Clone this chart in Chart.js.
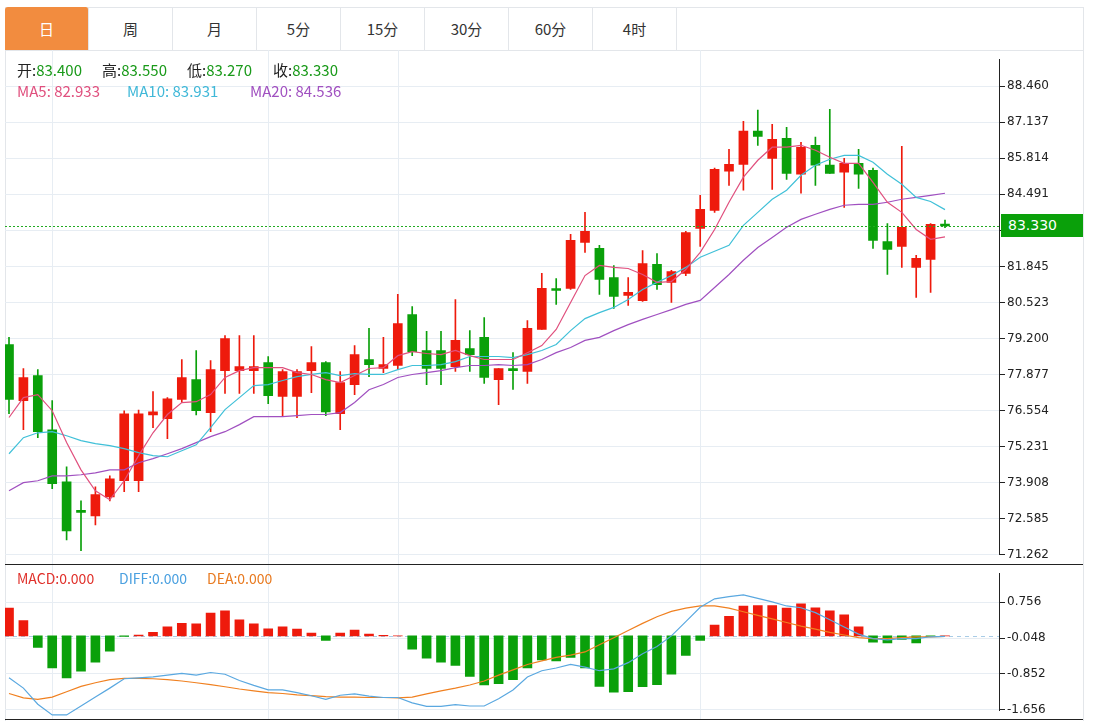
<!DOCTYPE html>
<html><head><meta charset="utf-8">
<script src="https://cdn.jsdelivr.net/npm/chart.js@4.4.0/dist/chart.umd.min.js"></script>
<style>
body{margin:0;background:#fff;font-family:"Noto Sans CJK SC","Noto Sans",sans-serif;}
#wrap{position:absolute;left:5px;top:7px;width:1077px;height:713px;border:1px solid #e3e6ea;border-bottom:none;}
.tab{position:absolute;top:7px;height:43px;width:83px;border-right:1px solid #e3e6ea;text-align:center;line-height:43px;font-size:15px;color:#333;}
#tabline{position:absolute;left:5px;top:50px;width:1078px;height:1px;background:#e3e6ea;}
.hdr{position:absolute;font-size:15px;white-space:nowrap;font-family:"Noto Sans CJK SC",sans-serif;color:#222}
.m{position:absolute;font-size:14px;white-space:nowrap;top:568px}
.g{color:#1a9a1a}
canvas{position:absolute;}
#pl{position:absolute;left:1001px;top:214px;width:82px;height:23px;background:#0aa00a;color:#fff;font:14px "DejaVu Sans",sans-serif;line-height:23px;padding-left:7px;box-sizing:border-box;}
</style></head><body>
<div id="wrap"></div>
<div id="tabs"></div>
<div id="tabline"></div>
<canvas id="c1" width="1078" height="514" style="left:5px;top:50px;width:1078px;height:514px"></canvas>
<canvas id="c2" width="1078" height="156" style="left:5px;top:564px;width:1078px;height:156px"></canvas>
<div style="position:absolute;left:5px;top:564px;width:1078px;height:1px;background:#222"></div>
<div style="position:absolute;left:5px;top:719px;width:1078px;height:1px;background:#222"></div>
<div class="hdr" style="left:17px;top:59px">开:<span class="g">83.400</span></div>
<div class="hdr" style="left:102px;top:59px">高:<span class="g">83.550</span></div>
<div class="hdr" style="left:187px;top:59px">低:<span class="g">83.270</span></div>
<div class="hdr" style="left:273px;top:59px">收:<span class="g">83.330</span></div>
<div class="hdr" style="left:17px;top:80px;color:#e0507e">MA5: 82.933</div>
<div class="hdr" style="left:127px;top:80px;color:#40b8d8">MA10: 83.931</div>
<div class="hdr" style="left:250px;top:80px;color:#a050c0">MA20: 84.536</div>
<div class="m" style="left:17px;color:#e0302a">MACD:0.000</div>
<div class="m" style="left:119px;color:#4aa0e0">DIFF:0.000</div>
<div class="m" style="left:207px;color:#e87a20">DEA:0.000</div>
<div id="pl">83.330</div>
<script>
const tabs=["日","周","月","5分","15分","30分","60分","4时"];
const open=[78.98,76.92,77.84,75.85,73.94,72.88,72.69,73.39,73.98,73.98,76.40,76.26,76.96,77.69,76.48,78.02,78.02,78.02,78.32,77.07,77.07,78.02,78.32,76.44,77.51,78.43,78.10,78.21,80.08,78.76,78.76,78.17,78.83,79.24,77.69,78.06,77.99,79.53,80.99,81.04,82.73,82.51,81.44,80.78,80.59,81.92,81.26,81.59,83.24,83.90,85.34,85.59,86.81,85.81,86.55,85.23,86.29,85.56,85.30,85.63,85.37,82.76,82.58,81.81,82.10,83.40];
const high=[79.24,78.10,78.06,76.92,74.49,73.24,73.76,74.16,76.55,76.57,77.25,77.03,78.43,78.76,78.39,79.31,79.31,79.31,78.54,78.06,78.06,78.90,78.35,77.99,78.94,79.57,79.24,80.82,80.37,79.46,79.46,80.63,79.49,79.97,78.10,78.68,79.86,81.59,81.40,83.02,83.83,82.62,81.88,81.44,82.43,82.32,81.70,83.13,84.45,85.45,86.14,87.17,87.58,87.06,86.95,86.40,86.59,87.61,85.81,86.14,85.45,83.42,86.25,82.25,83.42,83.55];
const low=[76.44,75.85,75.56,73.69,71.81,71.41,72.36,73.24,73.58,73.58,75.93,75.52,76.85,76.40,75.78,77.18,77.18,77.18,76.81,76.33,76.29,77.21,76.37,75.85,77.14,77.80,77.95,78.06,78.57,77.51,77.51,77.99,77.99,77.55,76.77,77.33,77.55,79.53,80.45,81.00,82.36,80.82,80.30,80.41,80.56,81.00,80.52,81.51,82.58,83.83,84.82,84.64,86.29,84.67,85.04,84.53,84.82,85.26,84.01,84.71,82.51,81.55,81.81,80.71,80.89,83.27];
const close=[76.96,77.77,75.78,73.87,72.14,72.82,73.47,74.05,76.44,76.44,76.51,76.99,77.77,76.55,78.06,79.20,78.17,78.17,77.10,77.99,77.99,78.32,76.51,77.58,78.61,78.24,78.24,79.75,78.72,78.10,78.10,79.13,78.61,77.77,78.10,78.02,79.57,81.04,80.96,82.80,83.13,81.37,80.74,80.89,81.95,81.18,81.66,83.09,83.94,85.41,85.59,86.81,86.62,86.51,85.26,86.22,85.56,85.26,85.63,85.23,82.80,82.47,83.28,82.14,83.39,83.33];
const ma5=[76.30,77.03,77.14,76.55,75.38,74.38,73.61,73.28,73.98,74.90,75.74,76.41,76.85,76.88,77.14,77.77,78.02,78.13,78.13,78.13,77.95,77.88,77.69,77.58,77.84,78.10,78.13,78.57,78.72,78.65,78.61,78.76,78.57,78.43,78.43,78.43,78.68,78.94,79.53,80.52,81.51,81.88,81.81,81.77,81.55,81.26,81.29,81.73,82.36,83.20,84.20,85.12,85.74,86.22,86.22,86.29,86.11,85.85,85.63,85.63,84.93,84.20,83.83,83.20,82.84,82.93];
const ma10=[74.97,75.56,75.74,75.78,75.63,75.45,75.34,75.27,75.16,75.01,74.90,74.86,75.08,75.30,75.93,76.59,77.03,77.47,77.51,77.66,77.80,77.88,77.95,77.84,77.91,77.88,77.88,78.06,78.21,78.21,78.24,78.35,78.54,78.54,78.54,78.50,78.61,78.76,78.98,79.49,79.93,80.15,80.34,80.63,81.00,81.26,81.51,81.81,82.18,82.40,82.62,83.35,83.83,84.31,84.64,85.19,85.56,85.78,85.92,85.92,85.67,85.23,84.86,84.38,84.23,83.93];
const ma20=[73.61,73.91,73.98,74.16,74.16,74.20,74.27,74.38,74.38,74.64,74.79,74.97,75.16,75.38,75.60,75.78,76.04,76.33,76.33,76.33,76.37,76.41,76.41,76.48,76.85,77.32,77.51,77.77,77.88,77.95,78.02,78.13,78.21,78.21,78.24,78.21,78.24,78.43,78.68,78.87,79.13,79.24,79.49,79.71,79.90,80.08,80.26,80.45,80.60,81.07,81.55,82.07,82.54,82.91,83.28,83.57,83.76,83.94,84.09,84.12,84.12,84.20,84.31,84.38,84.45,84.53];
const macd=[0.62,0.34,-0.26,-0.72,-0.94,-0.79,-0.59,-0.34,-0.01,0.02,0.08,0.20,0.28,0.27,0.51,0.56,0.36,0.27,0.16,0.20,0.15,0.06,-0.10,0.06,0.13,0.04,0.01,0.0,-0.30,-0.50,-0.59,-0.66,-0.91,-1.10,-1.07,-0.98,-0.72,-0.54,-0.56,-0.48,-0.72,-1.13,-1.26,-1.25,-1.14,-1.09,-0.86,-0.44,-0.10,0.24,0.44,0.67,0.68,0.68,0.62,0.72,0.63,0.56,0.47,0.20,-0.14,-0.16,-0.08,-0.16,-0.02,0.0];
const diff=[-0.94,-1.17,-1.53,-1.77,-1.77,-1.57,-1.37,-1.17,-0.96,-0.94,-0.92,-0.88,-0.84,-0.88,-0.82,-0.86,-1.00,-1.11,-1.21,-1.21,-1.27,-1.34,-1.42,-1.33,-1.30,-1.35,-1.38,-1.38,-1.50,-1.58,-1.58,-1.54,-1.57,-1.57,-1.41,-1.21,-0.92,-0.78,-0.72,-0.64,-0.70,-0.78,-0.74,-0.60,-0.40,-0.24,0.0,0.32,0.64,0.83,0.88,0.92,0.84,0.76,0.67,0.63,0.52,0.36,0.20,0.04,-0.06,-0.09,-0.06,-0.06,-0.02,-0.01];
const dea=[-1.29,-1.39,-1.42,-1.37,-1.25,-1.13,-1.05,-0.98,-0.95,-0.95,-0.96,-0.98,-1.01,-1.05,-1.09,-1.14,-1.19,-1.23,-1.27,-1.29,-1.32,-1.34,-1.36,-1.37,-1.37,-1.38,-1.38,-1.39,-1.37,-1.30,-1.23,-1.17,-1.10,-1.01,-0.88,-0.76,-0.64,-0.56,-0.48,-0.43,-0.36,-0.20,-0.04,0.12,0.28,0.43,0.55,0.62,0.67,0.67,0.62,0.54,0.46,0.38,0.30,0.22,0.15,0.08,0.02,-0.04,-0.06,-0.06,-0.04,-0.02,-0.02,-0.01];
const priceTicks=[88.460,87.137,85.814,84.491,83.168,81.845,80.523,79.200,77.877,76.554,75.231,73.908,72.585,71.262];
const macdTicks=[0.756,-0.048,-0.852,-1.656];
const vGrid=[3,18,27,48];
const lastPrice=83.330;

tabs.forEach((t,i)=>{const d=document.createElement('div');d.className='tab';d.textContent=t;d.style.left=(5+i*84)+'px';
 if(i===0){d.style.background='#f28c3f';d.style.color='#fff';d.style.borderRadius='3px 3px 0 0';}
 document.getElementById('tabs').appendChild(d);});

const RED='#ee1a0c',GREEN='#0aa00a';
const cols=open.map((o,i)=>close[i]>=o?RED:GREEN);
const pts=a=>a.map((v,i)=>({x:i,y:v}));
const xmin=-0.278,xmax=68.75;
const gridC='#e7edf3';
function xScale(){return {type:'linear',display:false,offset:false,min:xmin,max:xmax};}
function yScale(min,max,ticks){return {type:'linear',position:'right',min,max,
 afterBuildTicks:s=>{s.ticks=ticks.map(v=>({value:v}));},
 afterFit:s=>{s.width=84;},
 ticks:{color:'#222',font:{family:'DejaVu Sans',size:12},padding:2,callback:v=>v.toFixed(3)},
 grid:{color:gridC,tickLength:6,tickColor:'#222',drawOnChartArea:true},border:{color:'#222'}};}
const lineDs=(d,c)=>({type:'line',data:pts(d),borderColor:c,borderWidth:1.2,pointRadius:0,pointHoverRadius:0,tension:0,order:0,clip:false});
const vgrid={id:'vg',beforeDatasetsDraw(ch){const c=ch.ctx,a=ch.chartArea;c.save();c.strokeStyle=gridC;c.lineWidth=1;
 vGrid.forEach(v=>{const x=Math.round(ch.scales.x.getPixelForValue(v))+0.5;c.beginPath();c.moveTo(x,0);c.lineTo(x,ch.height);c.stroke();});c.restore();}};
const hline=(val,color,dash)=>({id:'hl',afterDatasetsDraw(ch){const y=Math.round(ch.scales.y.getPixelForValue(val));const c=ch.ctx;c.save();c.strokeStyle=color;c.lineWidth=1;c.setLineDash(dash);c.beginPath();c.moveTo(ch.chartArea.left,y+0.5);c.lineTo(ch.chartArea.right,y+0.5);c.stroke();c.restore();}});
const common={responsive:false,animation:false,devicePixelRatio:1,layout:{padding:0,autoPadding:false},plugins:{legend:{display:false},tooltip:{enabled:false}}};

new Chart(document.getElementById('c1'),{type:'bar',data:{datasets:[
 {data:open.map((o,i)=>({x:i,y:[low[i],high[i]]})),backgroundColor:cols,barThickness:1,grouped:false,order:3},
 {data:open.map((o,i)=>({x:i,y:[o,close[i]]})),backgroundColor:cols,barThickness:9,minBarLength:2,grouped:false,order:2},
 lineDs(ma5,'#e0507e'),lineDs(ma10,'#40c0d8'),lineDs(ma20,'#a050c0')]},
 options:{...common,scales:{x:xScale(),y:yScale(71.262,89.45,priceTicks)}},
 plugins:[vgrid,hline(lastPrice,'#22aa22',[2,2])]});

new Chart(document.getElementById('c2'),{type:'bar',data:{datasets:[
 {data:macd.map((v,i)=>({x:i,y:v})),backgroundColor:macd.map(v=>v>=0?RED:GREEN),barThickness:9,grouped:false,order:2},
 lineDs(diff,'#5aa8e0'),lineDs(dea,'#f08020')]},
 options:{...common,scales:{x:xScale(),y:yScale(-1.678,1.404,macdTicks)}},
 plugins:[vgrid,{id:'z',beforeDatasetsDraw(ch){const y=Math.round(ch.scales.y.getPixelForValue(0));const c=ch.ctx;c.save();c.strokeStyle='#a8cce6';c.setLineDash([4,4]);c.beginPath();c.moveTo(ch.chartArea.left,y+0.5);c.lineTo(ch.chartArea.right,y+0.5);c.stroke();c.restore();}}]});
</script></body></html>
